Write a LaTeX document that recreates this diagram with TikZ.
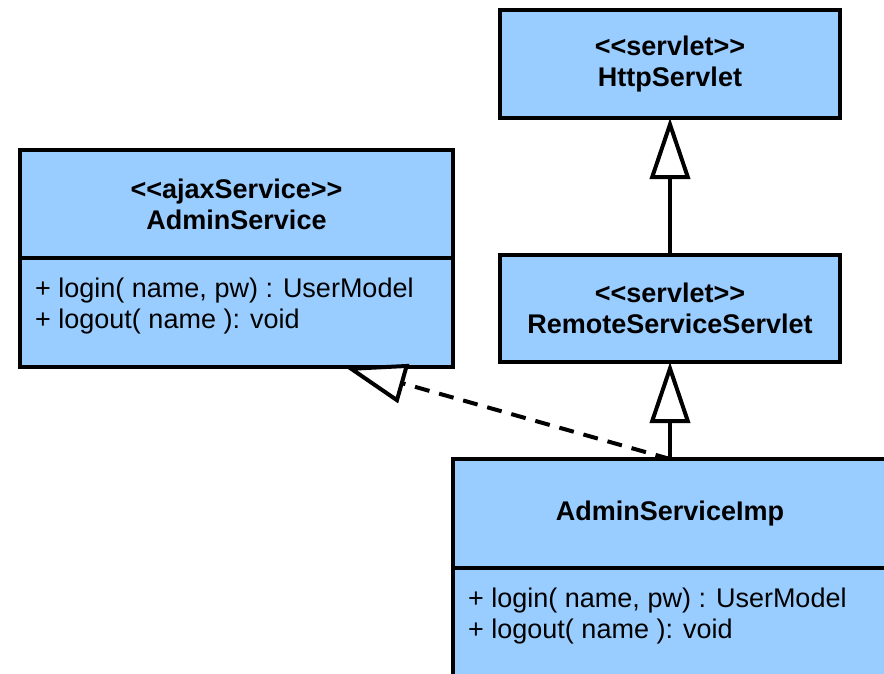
\documentclass[tikz,border=0pt]{standalone}
\usepackage{fontspec}
\setmainfont{Liberation Sans}
\usetikzlibrary{arrows.meta,calc}
\definecolor{boxblue}{RGB}{153,204,255}
% keep << and >> from turning into guillemets
\newcommand\stereo[1]{<\kern0pt<#1>\kern0pt>}
\tikzset{
  compart/.style={draw=black, line width=4pt, fill=boxblue, inner sep=0pt, outer sep=0pt},
  titlebox/.style={compart, align=center, font=\bfseries\fontsize{27}{31}\selectfont},
  member/.style={anchor=base west, inner sep=0pt, font=\fontsize{27}{31}\selectfont},
  generalizes/.style={line width=4pt, -{Triangle[length=61pt,width=40pt,fill=white]}},
  realizes/.style={generalizes, dash pattern=on 15pt off 10pt},
}
\begin{document}
\begin{tikzpicture}[x=1pt,y=-1pt]
\useasboundingbox (0,0) rectangle (884,673);
\clip (0,0) rectangle (884,673);

% HttpServlet
\node[titlebox, minimum width=340pt, minimum height=108pt] (http) at (670,64)
  {\stereo{servlet}\\HttpServlet};

% RemoteServiceServlet
\node[titlebox, minimum width=340pt, minimum height=107pt] (rss) at (670,308.5)
  {\stereo{servlet}\\RemoteServiceServlet};

% AdminService interface
\node[compart, minimum width=433pt, minimum height=109pt] (asattr) at (236.5,312.5) {};
\node[titlebox, minimum width=433pt, minimum height=108pt] (as) at (236.5,204)
  {\stereo{ajaxService}\\AdminService};
\node[member] (aslogin) at (35,297) {+ login( name, pw) : UserModel};
\node[member] (aslogout) at (35,328) {+ logout( name ): void};

% AdminServiceImp class
\node[compart, minimum width=434pt, minimum height=109pt] (impattr) at (670,622.5) {};
\node[titlebox, minimum width=434pt, minimum height=109pt] (imp) at (670,513.5)
  {AdminServiceImp};
\node[member] (implogin) at (468,607) {+ login( name, pw) : UserModel};
\node[member] (implogout) at (468,638) {+ logout( name ): void};

% relations
\coordinate (asTip) at ($(asattr.south west)!0.7506!(asattr.south east)$);
\draw[generalizes] (rss.north) -- (http.south);
\draw[generalizes] (imp.north) -- (rss.south);
\draw[realizes] (imp.north) -- (asTip);
\end{tikzpicture}
\end{document}
